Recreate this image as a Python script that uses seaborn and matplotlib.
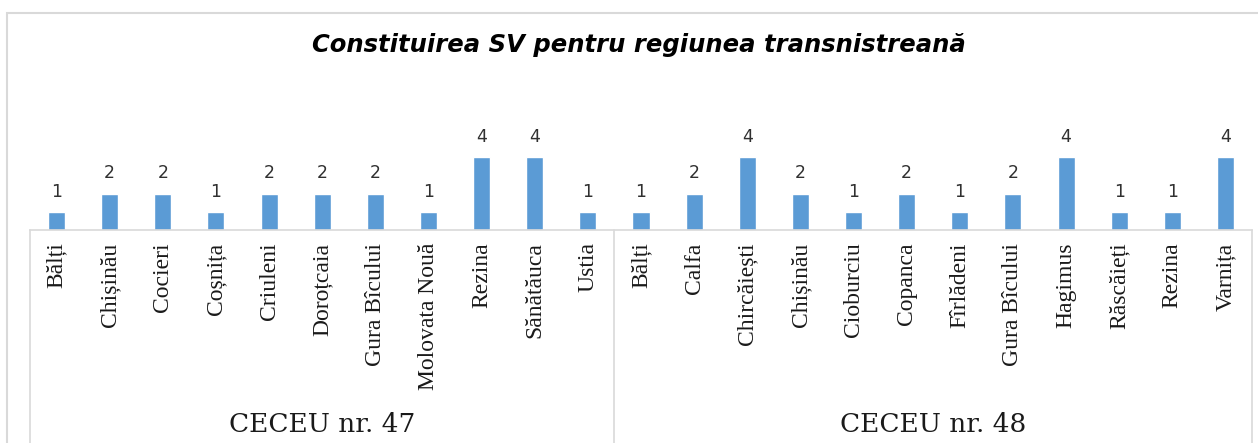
import numpy as np
import pandas as pd
import matplotlib
matplotlib.use("Agg")
import matplotlib.pyplot as plt
import seaborn as sns
from matplotlib.patches import Rectangle

# Data
groups = ["CECEU nr. 47", "CECEU nr. 48"]
labels_47 = ["Bălți", "Chișinău", "Cocieri", "Coșnița", "Criuleni", "Doroțcaia",
             "Gura Bîcului", "Molovata Nouă", "Rezina", "Sănătăuca", "Ustia"]
values_47 = [1, 2, 2, 1, 2, 2, 2, 1, 4, 4, 1]
labels_48 = ["Bălți", "Calfa", "Chircăiești", "Chișinău", "Cioburciu", "Copanca",
             "Fîrlădeni", "Gura Bîcului", "Hagimus", "Răscăieți", "Rezina", "Varnița"]
values_48 = [1, 2, 4, 2, 1, 2, 1, 2, 4, 1, 1, 4]

df = pd.DataFrame({
    "pos": list(range(len(labels_47) + len(labels_48))),
    "label": labels_47 + labels_48,
    "value": values_47 + values_48,
    "group": [groups[0]] * len(labels_47) + [groups[1]] * len(labels_48),
})

sns.set_theme(style="white")
plt.rcParams["font.family"] = ["DejaVu Sans"]

W, H = 1258, 443
fig = plt.figure(figsize=(W / 100, H / 100), dpi=100)

# axes placed in pixel terms
ax_left, ax_right = 30, 1252
base_y, top_y = 230, 148
ax = fig.add_axes([ax_left / W, (H - base_y) / H,
                   (ax_right - ax_left) / W, (base_y - top_y) / H])

sns.barplot(data=df, x="pos", y="value", color="#5B9BD5", width=0.32,
            saturation=1, ax=ax)
ax.set_xlim(-0.5, len(df) - 0.5)
ax.set_ylim(0, 4.5)

for c in ax.containers:
    ax.bar_label(c, labels=[str(v) for v in df["value"]], padding=8,
                 fontsize=12.5, color="#303030", family="DejaVu Sans")

ax.set_xticks(df["pos"])
ax.set_xticklabels(df["label"], rotation=90, va="top", ha="center",
                   family="Liberation Serif", fontsize=17, color="#1a1a1a")
ax.tick_params(axis="x", length=0, pad=9)
ax.set_yticks([])
ax.set_xlabel("")
ax.set_ylabel("")
for s in ["top", "left", "right"]:
    ax.spines[s].set_visible(False)
ax.spines["bottom"].set_color("#d9d9d9")
ax.spines["bottom"].set_linewidth(1.2)

# group separators and group labels below the tick labels
axh_px = base_y - top_y
y_bot = -(H - base_y) / axh_px
trans = ax.get_xaxis_transform()
bounds = [-0.5, len(labels_47) - 0.5, len(df) - 0.5]
for xb in bounds:
    ax.plot([xb, xb], [0, y_bot], color="#d9d9d9", lw=1.2,
            transform=trans, clip_on=False)
centers = [(bounds[0] + bounds[1]) / 2, (bounds[1] + bounds[2]) / 2]
for g, xc in zip(groups, centers):
    ax.text(xc, -(425 - base_y) / axh_px, g, transform=trans, ha="center",
            va="center", fontsize=19, family="DejaVu Serif", color="#1a1a1a")

# title
fig.text(0.508, 1 - 45 / H, "Constituirea SV pentru regiunea transnistreană",
         ha="center", va="center", fontsize=17.5, fontstyle="italic",
         fontweight="bold", family="DejaVu Sans", color="#000000")

# chart frame
fig.add_artist(Rectangle((7 / W, -0.05), 1.05, 1 - 13 / H + 0.05,
                         transform=fig.transFigure, fill=False,
                         edgecolor="#d9d9d9", lw=1.5))

fig.savefig("out.png", dpi=100, facecolor="white")
